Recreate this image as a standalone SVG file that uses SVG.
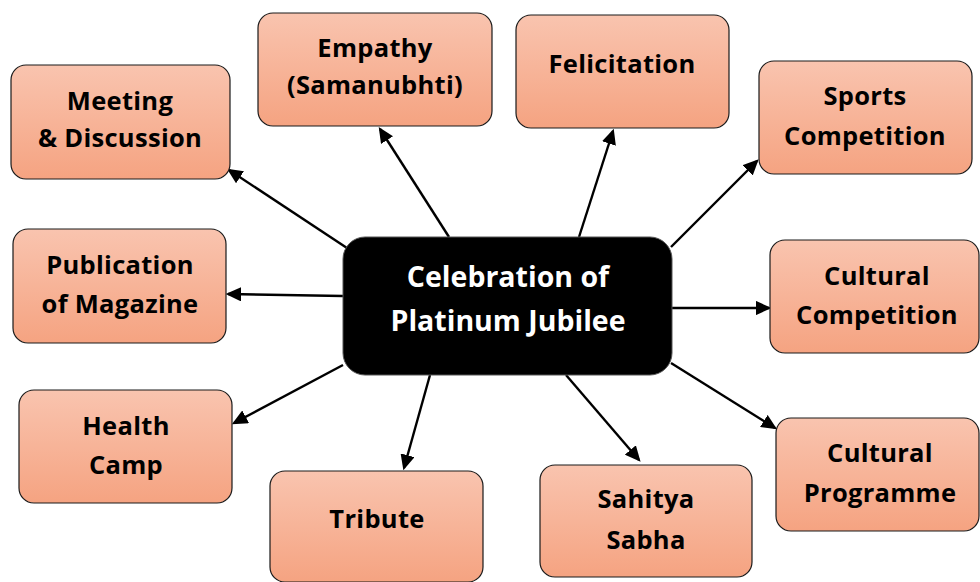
<svg xmlns="http://www.w3.org/2000/svg" width="980" height="582" viewBox="0 0 980 582">
<defs>
<linearGradient id="g" x1="0" y1="0" x2="0" y2="1">
<stop offset="0" stop-color="#F9C4AF"/>
<stop offset="1" stop-color="#F5A381"/>
</linearGradient>
<marker id="ah" markerWidth="6.5" markerHeight="6" refX="5.5" refY="3" orient="auto" markerUnits="strokeWidth" viewBox="0 0 6.5 6">
<path d="M0,0 L6.5,3 L0,6 Z" fill="#000"/>
</marker>
<style>
.box{fill:url(#g);stroke:#1a1a1a;stroke-width:1.2}
.t{font-family:"Open Sans","Noto Sans","Liberation Sans",sans-serif;font-weight:700;font-size:25.5px;letter-spacing:0.3px;fill:#000;text-anchor:middle}
.c{font-family:"Open Sans","Noto Sans","Liberation Sans",sans-serif;font-weight:700;font-size:28.5px;fill:#fff;text-anchor:middle}
.e{stroke:#000;stroke-width:2.4;fill:none;marker-end:url(#ah)}
</style>
</defs>
<rect width="980" height="582" fill="#fff"/>
<g id="connectors">
<line class="e" x1="347" y1="248" x2="229" y2="170"/>
<line class="e" x1="449" y1="237" x2="380" y2="129"/>
<line class="e" x1="579" y1="237" x2="613" y2="131"/>
<line class="e" x1="671" y1="247" x2="757" y2="161"/>
<line class="e" x1="672" y1="308" x2="769" y2="308"/>
<line class="e" x1="343" y1="296" x2="228" y2="294"/>
<line class="e" x1="343" y1="365" x2="234" y2="423"/>
<line class="e" x1="430" y1="375" x2="404" y2="468"/>
<line class="e" x1="566" y1="375" x2="639" y2="460"/>
<line class="e" x1="671" y1="363" x2="775" y2="428"/>
</g>
<g id="center">
<rect x="343" y="237" width="329" height="138" rx="22" fill="#000" stroke="#555" stroke-width="1"/>
<text class="c" x="508" y="287">Celebration of</text>
<text class="c" x="508" y="331">Platinum Jubilee</text>
</g>
<g id="meeting">
<rect class="box" x="11" y="65" width="219" height="114" rx="15"/>
<text class="t" x="120" y="110">Meeting</text>
<text class="t" x="120" y="147">&amp; Discussion</text>
</g>
<g id="empathy">
<rect class="box" x="258" y="13" width="234" height="113" rx="15"/>
<text class="t" x="375" y="57">Empathy</text>
<text class="t" x="375" y="94">(Samanubhti)</text>
</g>
<g id="felicitation">
<rect class="box" x="516" y="15" width="213" height="113" rx="15"/>
<text class="t" x="622" y="73">Felicitation</text>
</g>
<g id="sports">
<rect class="box" x="759" y="61" width="213" height="113" rx="15"/>
<text class="t" x="865" y="105">Sports</text>
<text class="t" x="865" y="145">Competition</text>
</g>
<g id="cultural-competition">
<rect class="box" x="770" y="240" width="209" height="113" rx="15"/>
<text class="t" x="877" y="285">Cultural</text>
<text class="t" x="877" y="324">Competition</text>
</g>
<g id="publication">
<rect class="box" x="13" y="229" width="213" height="114" rx="15"/>
<text class="t" x="120" y="274">Publication</text>
<text class="t" x="120" y="313">of Magazine</text>
</g>
<g id="health">
<rect class="box" x="19" y="390" width="213" height="113" rx="15"/>
<text class="t" x="126" y="435">Health</text>
<text class="t" x="126" y="474">Camp</text>
</g>
<g id="tribute">
<rect class="box" x="270" y="471" width="213" height="111" rx="15"/>
<text class="t" x="377" y="528">Tribute</text>
</g>
<g id="sahitya">
<rect class="box" x="540" y="465" width="212" height="112" rx="15"/>
<text class="t" x="646" y="508">Sahitya</text>
<text class="t" x="646" y="549">Sabha</text>
</g>
<g id="cultural-programme">
<rect class="box" x="776" y="418" width="203" height="113" rx="15"/>
<text class="t" x="880" y="462">Cultural</text>
<text class="t" x="880" y="502">Programme</text>
</g>
</svg>
